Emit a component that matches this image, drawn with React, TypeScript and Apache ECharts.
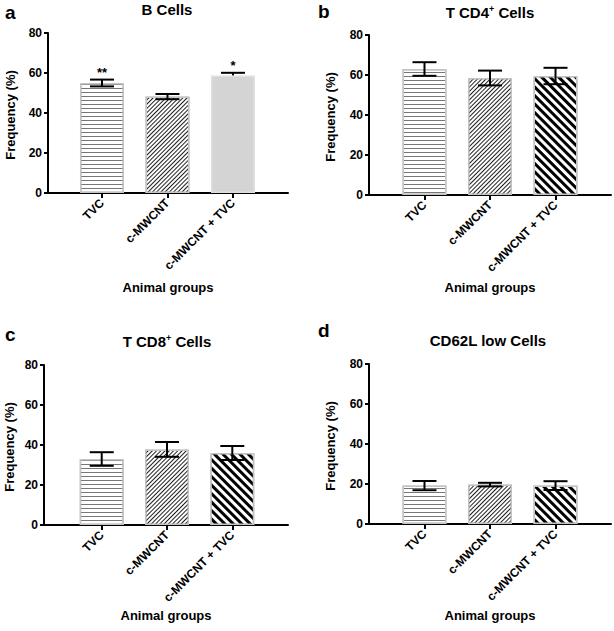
import React, { useEffect, useRef } from "react";
import * as echarts from "echarts";

// ---- data ----
const categories = ["TVC", "c-MWCNT", "c-MWCNT + TVC"];
const categoryPositions = [0, 1, 2];
const yTicks = [0, 20, 40, 60, 80];

const bCellsMean = [55, 48.2, 58.8];
const bCellsErrLow = [1.7, 1.3, 0];
const bCellsErrHigh = [1.7, 1.3, 1.3];
const bCellsStars = ["**", "", "*"];

const cd4Mean = [63, 58.5, 59.5];
const cd4Err = [3.4, 3.7, 4.1];

const cd8Mean = [33, 37.8, 36];
const cd8Err = [3.4, 3.7, 3.5];

const cd62Mean = [19.2, 19.7, 19.2];
const cd62Err = [2.3, 0.9, 2.2];

const panelLetters = ["a", "b", "c", "d"];
const panelTitles = ["B Cells", "T CD4{sup|+} Cells", "T CD8{sup|+} Cells", "CD62L low Cells"];
const yAxisName = "Frequency (%)";
const xAxisName = "Animal groups";

// ---- styles / layout ----
const FONT = "'Liberation Sans', Arial, Helvetica, sans-serif";

const hLines = {
  color: "#ffffff",
  borderColor: "#c4c4c4",
  borderWidth: 1.5,
  decal: { symbol: "rect", symbolSize: 1, dashArrayX: [1, 0], dashArrayY: [1, 3], rotation: 0, color: "#777777" },
};
const fineHatch = {
  color: "#ffffff",
  borderColor: "#c4c4c4",
  borderWidth: 1.5,
  decal: { symbol: "rect", symbolSize: 1, dashArrayX: [1, 0], dashArrayY: [1, 2], rotation: -Math.PI / 4, color: "#1e1e1e" },
};
const boldHatch = {
  color: "#ffffff",
  borderColor: "#c4c4c4",
  borderWidth: 1.5,
  decal: { symbol: "rect", symbolSize: 1, dashArrayX: [1, 0], dashArrayY: [3, 3], rotation: Math.PI / 4, color: "#000000" },
};
const solidGray = { color: "#d4d4d4", borderColor: "#e0e0e0", borderWidth: 1.5 };

const layout = [
  { left: 48, top: 33, width: 240, xMin: -0.824, xMax: 2.84, letterX: 5, letterY: 12, titleX: 167, titleY: 9, yNameX: 10, xGap: 88 },
  { left: 369, top: 35, width: 242, xMin: -0.847, xMax: 2.847, letterX: 318, letterY: 11.5, titleX: 490, titleY: 12, yNameX: 330, xGap: 86 },
  { left: 44, top: 365, width: 244, xMin: -0.884, xMax: 2.853, letterX: 5, letterY: 334, titleX: 167, titleY: 341, yNameX: 9, xGap: 84 },
  { left: 369, top: 364, width: 242, xMin: -0.847, xMax: 2.847, letterX: 318, letterY: 330, titleX: 488, titleY: 340, yNameX: 330, xGap: 85 },
];

const panels = [
  { mean: bCellsMean, lo: bCellsErrLow, hi: bCellsErrHigh, stars: bCellsStars, styles: [hLines, fineHatch, solidGray] },
  { mean: cd4Mean, lo: cd4Err, hi: cd4Err, stars: ["", "", ""], styles: [hLines, fineHatch, boldHatch] },
  { mean: cd8Mean, lo: cd8Err, hi: cd8Err, stars: ["", "", ""], styles: [hLines, fineHatch, boldHatch] },
  { mean: cd62Mean, lo: cd62Err, hi: cd62Err, stars: ["", "", ""], styles: [hLines, fineHatch, boldHatch] },
];

function buildOption() {
  const grid: any[] = [];
  const xAxis: any[] = [];
  const yAxis: any[] = [];
  const series: any[] = [];
  const graphic: any[] = [];
  const axisLineStyle = { color: "#000", width: 2 };

  panels.forEach((p, i) => {
    const L = layout[i];
    grid.push({ left: L.left, top: L.top, width: L.width, height: 160, containLabel: false });
    xAxis.push({
      gridIndex: i,
      type: "value",
      min: L.xMin,
      max: L.xMax,
      name: xAxisName,
      nameLocation: "middle",
      nameGap: L.xGap,
      nameTextStyle: { color: "#000", fontWeight: "bold", fontSize: 13, fontFamily: FONT },
      axisLine: { show: true, onZero: false, lineStyle: axisLineStyle },
      axisTick: { show: true, customValues: categoryPositions, length: 5, lineStyle: axisLineStyle },
      axisLabel: {
        customValues: categoryPositions,
        formatter: (v: number) => categories[Math.round(v)] ?? "",
        rotate: 45,
        color: "#000",
        fontWeight: "bold",
        fontSize: 12,
        fontFamily: FONT,
        margin: 8,
      },
      splitLine: { show: false },
    });
    yAxis.push({
      gridIndex: i,
      type: "value",
      min: 0,
      max: 80,
      interval: 20,
      axisLine: { show: true, onZero: false, lineStyle: axisLineStyle },
      axisTick: { show: true, customValues: yTicks, length: 4, lineStyle: axisLineStyle },
      axisLabel: { customValues: yTicks, color: "#000", fontWeight: "bold", fontSize: 12, fontFamily: FONT, margin: 6 },
      splitLine: { show: false },
    });
    series.push({
      type: "bar",
      xAxisIndex: i,
      yAxisIndex: i,
      barWidth: 44,
      silent: true,
      data: p.mean.map((m, k) => ({ value: [categoryPositions[k], m], itemStyle: p.styles[k] })),
    });
    series.push({
      type: "custom",
      xAxisIndex: i,
      yAxisIndex: i,
      z: 10,
      silent: true,
      encode: { x: 0, y: 2 },
      data: p.mean.map((m, k) => [categoryPositions[k], m - p.lo[k], m + p.hi[k], m]),
      renderItem: (params: any, api: any) => {
        const x = api.value(0);
        const low = api.value(1);
        const high = api.value(2);
        const m = api.value(3);
        const pt = api.coord([x, high]);
        const pl = api.coord([x, low]);
        const half = 12;
        const st = { stroke: "#000", lineWidth: 2 };
        const children: any[] = [
          { type: "line", shape: { x1: pt[0], y1: pt[1], x2: pl[0], y2: pl[1] }, style: st },
          { type: "line", shape: { x1: pt[0] - half, y1: pt[1], x2: pt[0] + half, y2: pt[1] }, style: st },
        ];
        if (low < m) {
          children.push({ type: "line", shape: { x1: pl[0] - half, y1: pl[1], x2: pl[0] + half, y2: pl[1] }, style: st });
        }
        const star = p.stars[params.dataIndex];
        if (star) {
          children.push({
            type: "text",
            style: {
              text: star,
              x: pt[0],
              y: pt[1] - 1,
              align: "center",
              verticalAlign: "bottom",
              font: `bold 13px ${FONT}`,
              fill: "#000",
            },
          });
        }
        return { type: "group", children };
      },
    });
    graphic.push({
      type: "text",
      x: L.letterX,
      y: L.letterY,
      style: { text: panelLetters[i], font: `bold 19px ${FONT}`, fill: "#000", align: "left", verticalAlign: "middle" },
    });
    graphic.push({
      type: "text",
      x: L.titleX,
      y: L.titleY,
      style: {
        text: panelTitles[i],
        font: `bold 15px ${FONT}`,
        fill: "#000",
        align: "center",
        verticalAlign: "middle",
        rich: {
          sup: { fontSize: 9, fontWeight: "bold", fontFamily: FONT, verticalAlign: "top", fill: "#000" },
        },
      },
    });
    graphic.push({
      type: "text",
      x: L.yNameX,
      y: L.top + 82,
      rotation: Math.PI / 2,
      style: { text: yAxisName, font: `bold 13px ${FONT}`, fill: "#000", align: "center", verticalAlign: "middle" },
    });
  });

  return {
    animation: false,
    backgroundColor: "#ffffff",
    grid,
    xAxis,
    yAxis,
    series,
    graphic,
  };
}

export default function App() {
  const ref = useRef<HTMLDivElement>(null);
  useEffect(() => {
    if (!ref.current) return;
    const chart = echarts.init(ref.current, null, { renderer: "svg" });
    chart.setOption(buildOption() as any);
    return () => chart.dispose();
  }, []);
  return (
    <div
      ref={ref}
      style={{ position: "absolute", left: 0, top: 0, width: 614, height: 631, background: "#fff" }}
    />
  );
}
